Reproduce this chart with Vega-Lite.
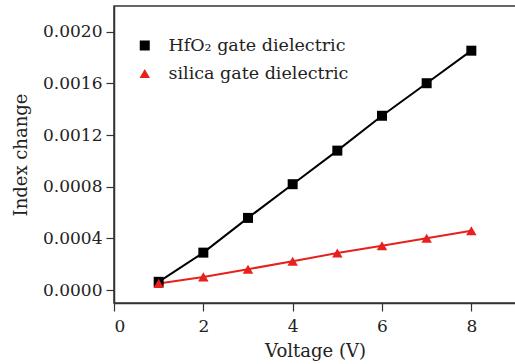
{
  "$schema": "https://vega.github.io/schema/vega-lite/v6.json",
  "width": 402,
  "height": 297,
  "autosize": {"type": "none"},
  "padding": {"left": 114, "top": 6, "right": 0, "bottom": 61},
  "background": "white",
  "config": {
    "font": "DejaVu Serif",
    "view": {"stroke": "#333333", "strokeWidth": 1.5},
    "axis": {
      "labelFont": "DejaVu Serif", "titleFont": "DejaVu Serif",
      "labelFontSize": 17, "titleFontSize": 18, "titleFontWeight": "normal",
      "labelColor": "#222222", "titleColor": "#222222",
      "domainColor": "#333333", "domainWidth": 1.5, "tickColor": "#333333", "tickWidth": 1.2,
      "tickSize": 8, "grid": false
    },
    "legend": {"labelFont": "DejaVu Serif", "labelFontSize": 17.5, "labelColor": "#222222", "labelLimit": 400}
  },
  "data": {"values": [
    {"series": "HfO₂ gate dielectric", "v": 1, "n": 0.000064},
    {"series": "HfO₂ gate dielectric", "v": 2, "n": 0.00029},
    {"series": "HfO₂ gate dielectric", "v": 3, "n": 0.000559},
    {"series": "HfO₂ gate dielectric", "v": 4, "n": 0.00082},
    {"series": "HfO₂ gate dielectric", "v": 5, "n": 0.00108},
    {"series": "HfO₂ gate dielectric", "v": 6, "n": 0.00135},
    {"series": "HfO₂ gate dielectric", "v": 7, "n": 0.001602},
    {"series": "HfO₂ gate dielectric", "v": 8, "n": 0.001854},
    {"series": "silica gate dielectric", "v": 1, "n": 0.000051},
    {"series": "silica gate dielectric", "v": 2, "n": 0.000102},
    {"series": "silica gate dielectric", "v": 3, "n": 0.000162},
    {"series": "silica gate dielectric", "v": 4, "n": 0.000223},
    {"series": "silica gate dielectric", "v": 5, "n": 0.000287},
    {"series": "silica gate dielectric", "v": 6, "n": 0.000344},
    {"series": "silica gate dielectric", "v": 7, "n": 0.000402},
    {"series": "silica gate dielectric", "v": 8, "n": 0.000459}
  ]},
  "encoding": {
    "x": {"field": "v", "type": "quantitative",
      "scale": {"domain": [0, 9], "nice": false, "zero": false},
      "axis": {"values": [0, 2, 4, 6, 8], "title": "Voltage (V)", "labelPadding": 7, "titlePadding": 8}},
    "y": {"field": "n", "type": "quantitative",
      "scale": {"domain": [-0.0001, 0.0022], "nice": false, "zero": false},
      "axis": {"values": [0, 0.0004, 0.0008, 0.0012, 0.0016, 0.002], "format": ".4f", "title": "Index change", "labelPadding": 4, "titlePadding": 12}}
  },
  "layer": [
    {
      "mark": {"type": "line", "strokeWidth": 2},
      "encoding": {
        "color": {"field": "series", "type": "nominal",
          "scale": {"domain": ["HfO₂ gate dielectric", "silica gate dielectric"], "range": ["#000000", "#e8201c"]},
          "legend": {
            "title": null, "orient": "none", "legendX": 22, "legendY": 31,
            "padding": 0, "rowPadding": 10, "symbolSize": 1024, "labelOffset": 15,
            "clipHeight": 17,
            "symbolStrokeWidth": 0,
            "encode": {"symbols": {"update": {
              "shape": {"signal": "datum.value === 'HfO₂ gate dielectric' ? 'M-0.5,-0.031L-0.156,-0.031L-0.156,-0.156L0.156,-0.156L0.156,-0.031L0.5,-0.031L0.5,0.031L0.156,0.031L0.156,0.156L-0.156,0.156L-0.156,0.031L-0.5,0.031Z' : 'M-0.5,-0.031L0.5,-0.031L0.5,0.031L-0.5,0.031ZM0,-0.19L0.194,0.14L-0.194,0.14Z'"},
              "fill": {"signal": "datum.value === 'HfO₂ gate dielectric' ? '#000000' : '#e8201c'"},
              "fillOpacity": {"value": 1},
              "opacity": {"value": 1}
            }}}
          }}
      }
    },
    {
      "transform": [{"calculate": "datum.series", "as": "marker_series"}],
      "mark": {"type": "point", "filled": true, "opacity": 1, "strokeWidth": 0},
      "encoding": {
        "fill": {"field": "marker_series", "type": "nominal",
          "scale": {"domain": ["HfO₂ gate dielectric", "silica gate dielectric"], "range": ["#000000", "#e8201c"]},
          "legend": null},
        "shape": {"field": "marker_series", "type": "nominal",
          "scale": {"domain": ["HfO₂ gate dielectric", "silica gate dielectric"], "range": ["square", "triangle-up"]},
          "legend": null},
        "size": {"field": "marker_series", "type": "nominal",
          "scale": {"domain": ["HfO₂ gate dielectric", "silica gate dielectric"], "range": [100, 110]},
          "legend": null}
      }
    }
  ]
}
